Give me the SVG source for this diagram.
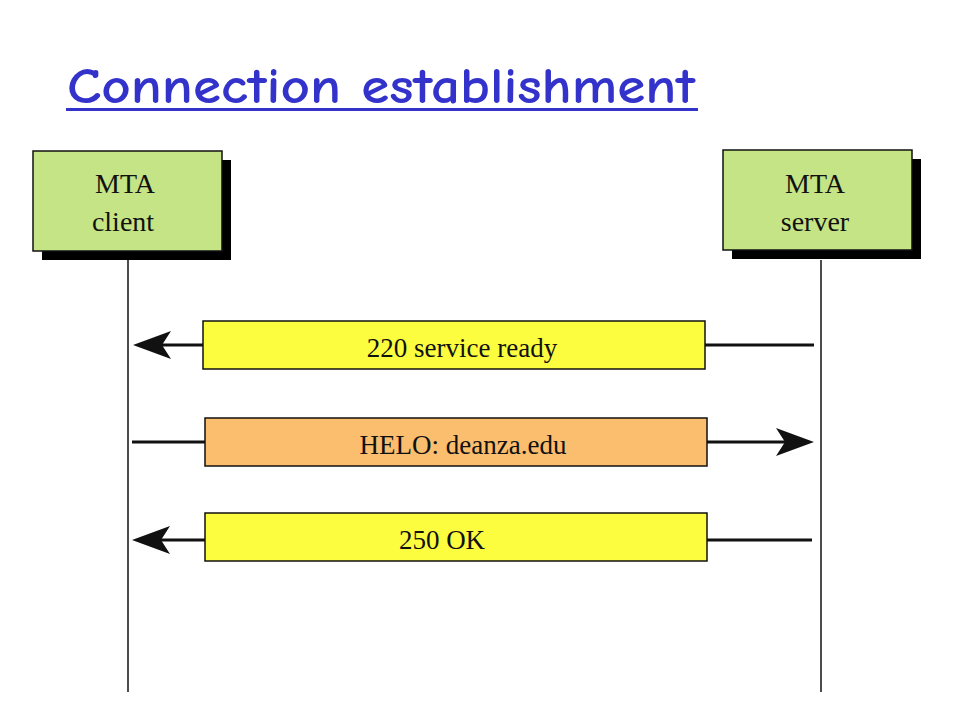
<svg xmlns="http://www.w3.org/2000/svg" width="960" height="720" viewBox="0 0 960 720">
<defs>
<style>
.title{font-family:"Comic Neue","DejaVu Sans",sans-serif;font-size:50px;font-weight:700;fill:#3333cc}
.node{fill:#c4e486;stroke:#111;stroke-width:1.5}
.shadow{fill:#000}
.lbl{font-family:"Liberation Serif",serif;font-size:27px;fill:#111;text-anchor:middle}
.nlbl{font-size:28px}
.msg{stroke:#111;stroke-width:1.5}
.yel{fill:#fdfd40}
.org{fill:#fbbd6e}
.life{stroke:#111;stroke-width:1.5;fill:none}
.conn{stroke:#111;stroke-width:3;fill:none}
.head{fill:#111}
</style>
</defs>
<rect width="960" height="720" fill="#fff"/>
<text class="title" x="67" y="103" textLength="628" lengthAdjust="spacingAndGlyphs">Connection establishment</text>
<rect x="66" y="108" width="632" height="3" fill="#3333cc"/>

<g id="client">
<rect class="shadow" x="42" y="160" width="189" height="100"/>
<rect class="node" x="33" y="151" width="189" height="100"/>
<text class="lbl nlbl" x="125" y="193">MTA</text>
<text class="lbl nlbl" x="123" y="231">client</text>
</g>
<g id="server">
<rect class="shadow" x="732" y="159" width="189" height="100"/>
<rect class="node" x="723" y="150" width="189" height="100"/>
<text class="lbl nlbl" x="815" y="193">MTA</text>
<text class="lbl nlbl" x="815" y="231">server</text>
</g>

<g id="connectors">
<line class="life" x1="128" y1="260" x2="128" y2="692"/>
<line class="life" x1="821" y1="260" x2="821" y2="692"/>
<line class="conn" x1="705" y1="345" x2="814" y2="345"/>
<line class="conn" x1="160" y1="345" x2="203" y2="345"/>
<path class="head" d="M133,345 L171,331 L162,345 L171,359 Z"/>
<line class="conn" x1="132" y1="442" x2="205" y2="442"/>
<line class="conn" x1="707" y1="442" x2="785" y2="442"/>
<path class="head" d="M814,442 L776,428 L785,442 L776,456 Z"/>
<line class="conn" x1="707" y1="540" x2="812" y2="540"/>
<line class="conn" x1="160" y1="540" x2="205" y2="540"/>
<path class="head" d="M132,540 L170,526 L161,540 L170,554 Z"/>
</g>

<g id="msg1">
<rect class="msg yel" x="203" y="321" width="502" height="48"/>
<text class="lbl" x="462" y="357">220 service ready</text>
</g>
<g id="msg2">
<rect class="msg org" x="205" y="418" width="502" height="48"/>
<text class="lbl" x="463" y="454">HELO: deanza.edu</text>
</g>
<g id="msg3">
<rect class="msg yel" x="205" y="513" width="502" height="48"/>
<text class="lbl" x="442" y="549">250 OK</text>
</g>
</svg>
